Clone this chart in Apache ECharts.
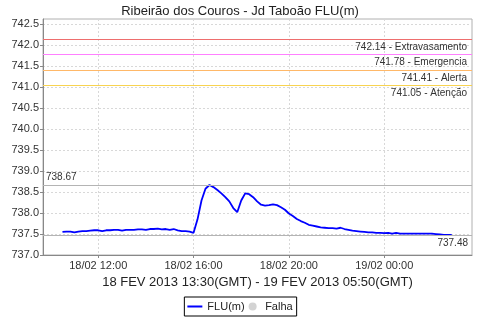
<!DOCTYPE html>
<html>
<head>
<meta charset="utf-8">
<script src="https://cdn.jsdelivr.net/npm/echarts@6/dist/echarts.min.js"></script>
<style>html,body{margin:0;padding:0;background:#fff}#c{width:480px;height:320px}</style>
</head>
<body>
<div id="c"></div>
<script>
// Data: 10-minute readings from 18/02 10:30 (local) to 19/02 02:50
const startHour = 10.5;          // hours since 18/02 00:00 (local)
const stepMinutes = 10;
const flu = [
  737.55, 737.56, 737.56, 737.54, 737.56, 737.57, 737.57, 737.58, 737.59, 737.59,
  737.57, 737.59, 737.59, 737.60, 737.60, 737.58, 737.60, 737.60, 737.60, 737.61,
  737.61, 737.60, 737.62, 737.62, 737.63, 737.61, 737.62, 737.60, 737.62, 737.59,
  737.57, 737.57, 737.56, 737.53, 737.85, 738.30, 738.58, 738.67, 738.62, 738.55,
  738.47, 738.38, 738.28, 738.12, 738.02, 738.30, 738.47, 738.45, 738.38, 738.28,
  738.20, 738.18, 738.19, 738.21, 738.19, 738.14, 738.08, 737.99, 737.93, 737.86,
  737.81, 737.77, 737.72, 737.70, 737.68, 737.66, 737.65, 737.64, 737.64, 737.63,
  737.65, 737.62, 737.60, 737.58, 737.57, 737.56, 737.55, 737.54, 737.54, 737.53,
  737.53, 737.52, 737.53, 737.51, 737.53, 737.51, 737.51, 737.51, 737.51, 737.51,
  737.51, 737.51, 737.51, 737.51, 737.50, 737.49, 737.48, 737.48, 737.48
];
const xTickHours = [12, 16, 20, 24];
const yTicks = [737.0, 737.5, 738.0, 738.5, 739.0, 739.5, 740.0, 740.5, 741.0, 741.5, 742.0, 742.5];
const thresholdValues = [742.14, 741.78, 741.41, 741.05];
const thresholdNames = ['Extravasamento', 'Emergencia', 'Alerta', 'Atenção'];
const thresholdColors = ['#ee6e6e', '#ff80ff', '#ffb868', '#f8d350'];
const titleText = 'Ribeirão dos Couros - Jd Taboão FLU(m)';
const rangeText = '18 FEV 2013 13:30(GMT) - 19 FEV 2013 05:50(GMT)';
const seriesNames = ['FLU(m)', 'Falha'];

const seriesData = flu.map((v, i) => [startHour + i * stepMinutes / 60, v]);

function fmtHour(h) {
  const day = h >= 24 ? '19/02' : '18/02';
  const hh = Math.floor(h % 24);
  const mm = Math.round((h - Math.floor(h)) * 60);
  return day + ' ' + String(hh).padStart(2, '0') + ':' + String(mm).padStart(2, '0');
}

const FONT = 'Liberation Sans';
const markData = thresholdValues.map((v, i) => ({
  yAxis: v,
  lineStyle: { color: thresholdColors[i], type: 'solid', width: 1, opacity: 1 },
  label: { show: true, position: 'insideEndBottom', formatter: v.toFixed(2) + ' - ' + thresholdNames[i],
           color: '#333', fontSize: 10, fontFamily: FONT, distance: [5, 3] }
}));
markData.push({
  type: 'max', valueDim: 'y',
  lineStyle: { color: '#b4b4b4', type: 'solid', width: 1 },
  label: { show: true, position: 'insideStartTop', formatter: p => Number(p.value).toFixed(2),
           color: '#333', fontSize: 10, fontFamily: FONT, distance: [3, 3] }
});
markData.push({
  type: 'min', valueDim: 'y',
  lineStyle: { color: '#b4b4b4', type: 'solid', width: 1 },
  label: { show: true, position: 'insideEndBottom', formatter: p => Number(p.value).toFixed(2),
           color: '#333', fontSize: 10, fontFamily: FONT, distance: [4, 3] }
});

const chart = echarts.init(document.getElementById('c'), null, { renderer: 'canvas' });
chart.setOption({
  animation: false,
  backgroundColor: '#fff',
  title: {
    text: titleText, left: 'center', top: 0,
    textStyle: { fontFamily: FONT, fontSize: 13, fontWeight: 'normal', color: '#222' }
  },
  grid: { left: 43, top: 19, width: 429, height: 236, show: true, borderColor: '#b0b0b0', borderWidth: 1, backgroundColor: '#fff' },
  xAxis: {
    type: 'value', min: 9.683, max: 27.683,
    name: rangeText, nameLocation: 'middle', nameGap: 21,
    nameTextStyle: { fontFamily: FONT, fontSize: 13, color: '#222' },
    axisLine: { show: true, lineStyle: { color: '#888' } },
    axisTick: { show: true, length: 3, customValues: xTickHours, lineStyle: { color: '#888' } },
    axisLabel: { customValues: xTickHours, formatter: v => fmtHour(v), fontFamily: FONT, fontSize: 11, color: '#333', margin: 5 },
    splitLine: { show: true, lineStyle: { color: '#d8d8d8', type: [2, 2] } }
  },
  yAxis: {
    type: 'value', min: 737, max: 742.63,
    axisLine: { show: true, lineStyle: { color: '#888' } },
    axisTick: { show: true, length: 3, customValues: yTicks, lineStyle: { color: '#888' } },
    axisLabel: { customValues: yTicks, formatter: v => v.toFixed(1), fontFamily: FONT, fontSize: 11, color: '#333', margin: 4 },
    splitLine: { show: true, lineStyle: { color: '#d8d8d8', type: [2, 2] } }
  },
  legend: {
    left: 'center', top: 297,
    data: [
      { name: seriesNames[0], icon: 'path://M0,0L15,0L15,2L0,2Z', itemStyle: { color: '#0000ff' } },
      { name: seriesNames[1], icon: 'circle', itemStyle: { color: '#c8c8c8' } }
    ],
    itemWidth: 15, itemHeight: 8, itemGap: 4,
    padding: [4, 4, 4, 3],
    borderColor: '#000', borderWidth: 1,
    textStyle: { fontFamily: FONT, fontSize: 11, color: '#222' }
  },
  series: [
    {
      name: seriesNames[0], type: 'line', data: seriesData,
      showSymbol: false, symbol: 'none',
      lineStyle: { color: '#0000ff', width: 1.8 },
      itemStyle: { color: '#0000ff' },
      markLine: { silent: true, symbol: 'none', precision: 2, data: markData }
    },
    {
      name: seriesNames[1], type: 'scatter', data: [],
      itemStyle: { color: '#c8c8c8' }
    }
  ]
});
</script>
</body>
</html>
